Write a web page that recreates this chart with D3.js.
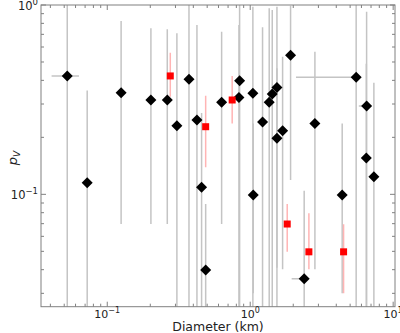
<!DOCTYPE html>
<html><head><meta charset="utf-8">
<script src="https://cdn.jsdelivr.net/npm/d3@7"></script>
<style>body{margin:0;background:#fff}svg{display:block}text{font-family:"DejaVu Sans",sans-serif}</style>
</head><body>
<svg id="c" width="400" height="333"></svg>
<script>
// Black diamonds: diameter, albedo, albedo error range, diameter error range
const blackD   = [0.0525,0.0724,0.125,0.202,0.263,0.307,0.373,0.424,0.457,0.488,0.631,0.843,0.834,1.044,1.05,1.22,1.358,1.426,1.538,1.538,1.685,1.916,2.385,2.835,4.40,5.51,6.52,6.49,7.33];
const blackPv  = [0.422,0.115,0.344,0.315,0.315,0.230,0.405,0.247,0.109,0.0398,0.306,0.398,0.325,0.342,0.0992,0.241,0.306,0.339,0.367,0.1976,0.217,0.542,0.0358,0.237,0.0992,0.415,0.2926,0.1555,0.124];
const blackLo  = [0.001,0.001,0.0697,0.0697,0.0697,0.001,0.001,0.001,0.001,0.001,0.0697,0.001,0.001,0.001,0.030,0.001,0.001,0.001,0.001,0.041,0.0402,0.119,0.001,0.0402,0.030,0.001,0.001,0.001,0.001];
const blackHi  = [2,0.353,0.823,0.753,0.744,0.709,2,0.784,0.269,0.0889,0.723,2,0.784,0.98,0.237,0.762,0.96,0.94,0.98,0.463,0.533,0.99,0.1045,0.567,0.237,2,0.922,0.49,0.389];
const blackXLo = [0.0408,null,null,null,null,null,null,null,null,null,null,null,null,null,null,null,null,null,null,null,null,null,1.95,null,null,2.09,5.75,null,null];
const blackXHi = [0.0634,null,null,null,null,null,null,null,null,null,null,null,null,null,null,null,null,null,null,null,null,null,2.385,null,null,5.51,6.52,null,null];
// Red squares
const redD  = [0.276,0.488,0.748,1.815,2.573,4.50];
const redPv = [0.422,0.2276,0.315,0.0697,0.0497,0.0497];
const redLo = [0.328,0.139,0.237,0.0497,0.0402,0.030];
const redHi = [0.560,0.332,0.422,0.0889,0.0794,0.0694];
const xTickVals = [0.1,1,10], xTickExp = ["−1","0","1"];
const yTickVals = [0.1,1],    yTickExp = ["−1","0"];

const L=41,T=5,R=395,B=306.7;
const x=d3.scaleLog().domain([0.0344,10.3]).range([L,R]);
const y=d3.scaleLog().domain([0.0255,1]).range([B,T]);
const svg=d3.select("#c");
svg.append("defs").append("clipPath").attr("id","cp").append("rect").attr("x",L).attr("y",T).attr("width",R-L).attr("height",B-T);
const g=svg.append("g").attr("clip-path","url(#cp)");

const black=blackD.map((d,i)=>({d,p:blackPv[i],lo:blackLo[i],hi:blackHi[i],xl:blackXLo[i],xh:blackXHi[i]}));
const red=redD.map((d,i)=>({d,p:redPv[i],lo:redLo[i],hi:redHi[i]}));
const gray="#c4c4c4";
g.selectAll(".vb").data(black).join("line").attr("x1",d=>x(d.d)).attr("x2",d=>x(d.d))
 .attr("y1",d=>y(d.lo)).attr("y2",d=>y(d.hi)).attr("stroke",gray).attr("stroke-width",1.5);
g.selectAll(".hb").data(black.filter(d=>d.xl)).join("line").attr("y1",d=>y(d.p)).attr("y2",d=>y(d.p))
 .attr("x1",d=>x(d.xl)).attr("x2",d=>x(d.xh)).attr("stroke",gray).attr("stroke-width",1.5);
g.selectAll(".rb").data(red).join("line").attr("x1",d=>x(d.d)).attr("x2",d=>x(d.d))
 .attr("y1",d=>y(d.lo)).attr("y2",d=>y(d.hi)).attr("stroke","#ffb4b4").attr("stroke-width",1.5);
g.selectAll(".dm").data(black).join("path").attr("transform",d=>`translate(${x(d.d)},${y(d.p)})`)
 .attr("d","M0,-5.5L5.5,0L0,5.5L-5.5,0Z").attr("fill","#000");
g.selectAll(".sq").data(red).join("rect").attr("x",d=>x(d.d)-3.5).attr("y",d=>y(d.p)-3.5)
 .attr("width",7).attr("height",7).attr("fill","#f00");

// axes frame and ticks
const ax=svg.append("g");
const axc="#808080";
ax.append("rect").attr("x",L).attr("y",T).attr("width",R-L).attr("height",B-T).attr("fill","none").attr("stroke",axc).attr("stroke-width",1);
function minors(sc){const [a,b]=sc.domain();const out=[];for(let e=-3;e<=2;e++)for(let m=1;m<10;m++){const v=m*Math.pow(10,e);if(v>=a&&v<=b)out.push({v,major:m===1});}return out;}
minors(x).forEach(t=>{const px=x(t.v),len=t.major?5:3;
 ax.append("line").attr("x1",px).attr("x2",px).attr("y1",B).attr("y2",B-len).attr("stroke",axc);
 ax.append("line").attr("x1",px).attr("x2",px).attr("y1",T).attr("y2",T+len).attr("stroke",axc);});
minors(y).forEach(t=>{const py=y(t.v),len=t.major?5:3;
 ax.append("line").attr("y1",py).attr("y2",py).attr("x1",L).attr("x2",L+len).attr("stroke",axc);
 ax.append("line").attr("y1",py).attr("y2",py).attr("x1",R).attr("x2",R-len).attr("stroke",axc);});
xTickVals.forEach((v,i)=>{const t=ax.append("text").attr("x",x(v)).attr("y",317.5).attr("text-anchor","middle").attr("font-size",11).attr("fill","#222");
 t.append("tspan").text("10");t.append("tspan").attr("dy",-4.5).attr("font-size",8).text(xTickExp[i]);});
yTickVals.forEach((v,i)=>{const t=ax.append("text").attr("x",38).attr("y",y(v)+4.5).attr("text-anchor","end").attr("font-size",11.5).attr("fill","#222");
 t.append("tspan").text("10");t.append("tspan").attr("dy",-4.5).attr("font-size",8.5).text(yTickExp[i]);});
svg.append("text").attr("x",(L+R)/2).attr("y",331).attr("text-anchor","middle").attr("font-size",12.5).attr("fill","#222").text("Diameter (km)");
const yl=svg.append("text").attr("transform","translate(17,158) rotate(-90)").attr("text-anchor","middle").attr("font-size",13).attr("fill","#222");
yl.append("tspan").attr("font-style","italic").text("p");
yl.append("tspan").attr("font-style","italic").attr("font-size",9).attr("dy",3).text("V");
</script>
</body></html>
